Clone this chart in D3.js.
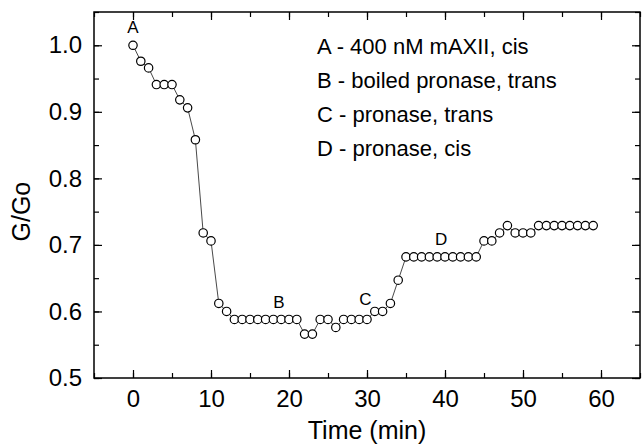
<!DOCTYPE html>
<html lang="en">
<head>
    <meta charset="UTF-8">
    <title>G/Go vs time</title>
    <script src="https://d3js.org/d3.v7.min.js"></script>
    <style>
        body { margin: 0; background: white; }
        svg { display: block; font-family: Arial, "Liberation Sans", sans-serif; }
    </style>
</head>
<body>
    <svg id="chart" width="644" height="447"></svg>

    <script>
        // time points (min)
        const times = [0, 1, 2, 3, 4, 5, 6, 7, 8, 9,
                       10, 11, 12, 13, 14, 15, 16, 17, 18, 19,
                       20, 21, 22, 23, 24, 25, 26, 27, 28, 29,
                       30, 31, 32, 33, 34, 35, 36, 37, 38, 39,
                       40, 41, 42, 43, 44, 45, 46, 47, 48, 49,
                       50, 51, 52, 53, 54, 55, 56, 57, 58, 59];

        // normalized conductance G/Go
        const ratios = [1.000, 0.976, 0.966, 0.941, 0.941, 0.941, 0.918, 0.906, 0.858, 0.718,
                        0.706, 0.612, 0.600, 0.588, 0.588, 0.588, 0.588, 0.588, 0.588, 0.588,
                        0.588, 0.588, 0.566, 0.566, 0.588, 0.588, 0.576, 0.588, 0.588, 0.588,
                        0.588, 0.600, 0.600, 0.612, 0.647, 0.682, 0.682, 0.682, 0.682, 0.682,
                        0.682, 0.682, 0.682, 0.682, 0.682, 0.706, 0.706, 0.718, 0.729, 0.718,
                        0.718, 0.718, 0.729, 0.729, 0.729, 0.729, 0.729, 0.729, 0.729, 0.729];

        // event markers on the trace
        const markLabels = ["A", "B", "C", "D"];
        const markTimes = [0, 18.7, 29.8, 39.5];
        const markRatios = [1.028, 0.615, 0.619, 0.709];

        const legendLines = [
            "A - 400 nM mAXII, cis",
            "B - boiled pronase, trans",
            "C - pronase, trans",
            "D - pronase, cis"
        ];

        const xTicks = [0, 10, 20, 30, 40, 50, 60];
        const yTicks = [0.5, 0.6, 0.7, 0.8, 0.9, 1.0];

        const margin = {top: 12, right: 4, bottom: 69, left: 94};
        const svg = d3.select("#chart");
        const width = +svg.attr("width") - margin.left - margin.right;
        const height = +svg.attr("height") - margin.top - margin.bottom;

        const g = svg.append("g")
            .attr("transform", `translate(${margin.left},${margin.top})`);

        const x = d3.scaleLinear().domain([-5, 65]).range([0, width]);
        const y = d3.scaleLinear().domain([0.5, 1.05]).range([height, 0]);

        const xMinor = d3.range(-5, 66, 5);
        const yMinor = d3.range(0.5, 1.051, 0.05);

        // inward ticks on all four sides
        function tickAxis(axisFn, scale, ticks, size, labels) {
            return axisFn(scale)
                .tickValues(ticks)
                .tickSizeInner(-size)
                .tickSizeOuter(0)
                .tickFormat(labels ? d3.format(labels) : "");
        }

        // minor ticks
        g.append("g").attr("transform", `translate(0,${height})`)
            .call(tickAxis(d3.axisBottom, x, xMinor, 5, null));
        g.append("g")
            .call(tickAxis(d3.axisTop, x, xMinor, 5, null));
        g.append("g")
            .call(tickAxis(d3.axisLeft, y, yMinor, 5, null));
        g.append("g").attr("transform", `translate(${width},0)`)
            .call(tickAxis(d3.axisRight, y, yMinor, 5, null));

        // major ticks
        g.append("g").attr("transform", `translate(0,${height})`)
            .call(tickAxis(d3.axisBottom, x, xTicks, 8, "d").tickPadding(12));
        g.append("g")
            .call(tickAxis(d3.axisTop, x, xTicks, 8, null));
        g.append("g")
            .call(tickAxis(d3.axisLeft, y, yTicks, 8, ".1f").tickPadding(12));
        g.append("g").attr("transform", `translate(${width},0)`)
            .call(tickAxis(d3.axisRight, y, yTicks, 8, null));

        g.selectAll(".domain").remove();
        g.selectAll(".tick line").attr("stroke", "#000").attr("stroke-width", 1.2);
        g.selectAll(".tick text")
            .attr("fill", "#000")
            .style("font-size", "24px");

        // frame
        g.append("rect")
            .attr("width", width)
            .attr("height", height)
            .attr("fill", "none")
            .attr("stroke", "#000")
            .attr("stroke-width", 1.5);

        // axis titles
        svg.append("text")
            .attr("x", margin.left + width / 2)
            .attr("y", 439)
            .attr("text-anchor", "middle")
            .style("font-size", "25px")
            .text("Time (min)");

        svg.append("text")
            .attr("transform", `translate(30,${margin.top + y(0.75)}) rotate(-90)`)
            .attr("text-anchor", "middle")
            .style("font-size", "25px")
            .text("G/Go");

        // trace
        const points = times.map((t, i) => ({t: t, v: ratios[i]}));

        g.append("path")
            .datum(points)
            .attr("fill", "none")
            .attr("stroke", "#333")
            .attr("stroke-width", 0.9)
            .attr("d", d3.line().x(d => x(d.t)).y(d => y(d.v)));

        g.selectAll("circle")
            .data(points)
            .enter().append("circle")
            .attr("cx", d => x(d.t))
            .attr("cy", d => y(d.v))
            .attr("r", 4.2)
            .attr("fill", "white")
            .attr("stroke", "#000")
            .attr("stroke-width", 1.2);

        // A-D markers
        g.selectAll(".mark")
            .data(markLabels)
            .enter().append("text")
            .attr("class", "mark")
            .attr("x", (d, i) => x(markTimes[i]))
            .attr("y", (d, i) => y(markRatios[i]))
            .attr("dy", "0.36em")
            .attr("text-anchor", "middle")
            .style("font-size", "17px")
            .text(d => d);

        // legend text
        g.selectAll(".legend")
            .data(legendLines)
            .enter().append("text")
            .attr("class", "legend")
            .attr("x", x(23.6))
            .attr("y", (d, i) => 42 + i * 34)
            .style("font-size", "22px")
            .text(d => d);
    </script>
</body>
</html>
